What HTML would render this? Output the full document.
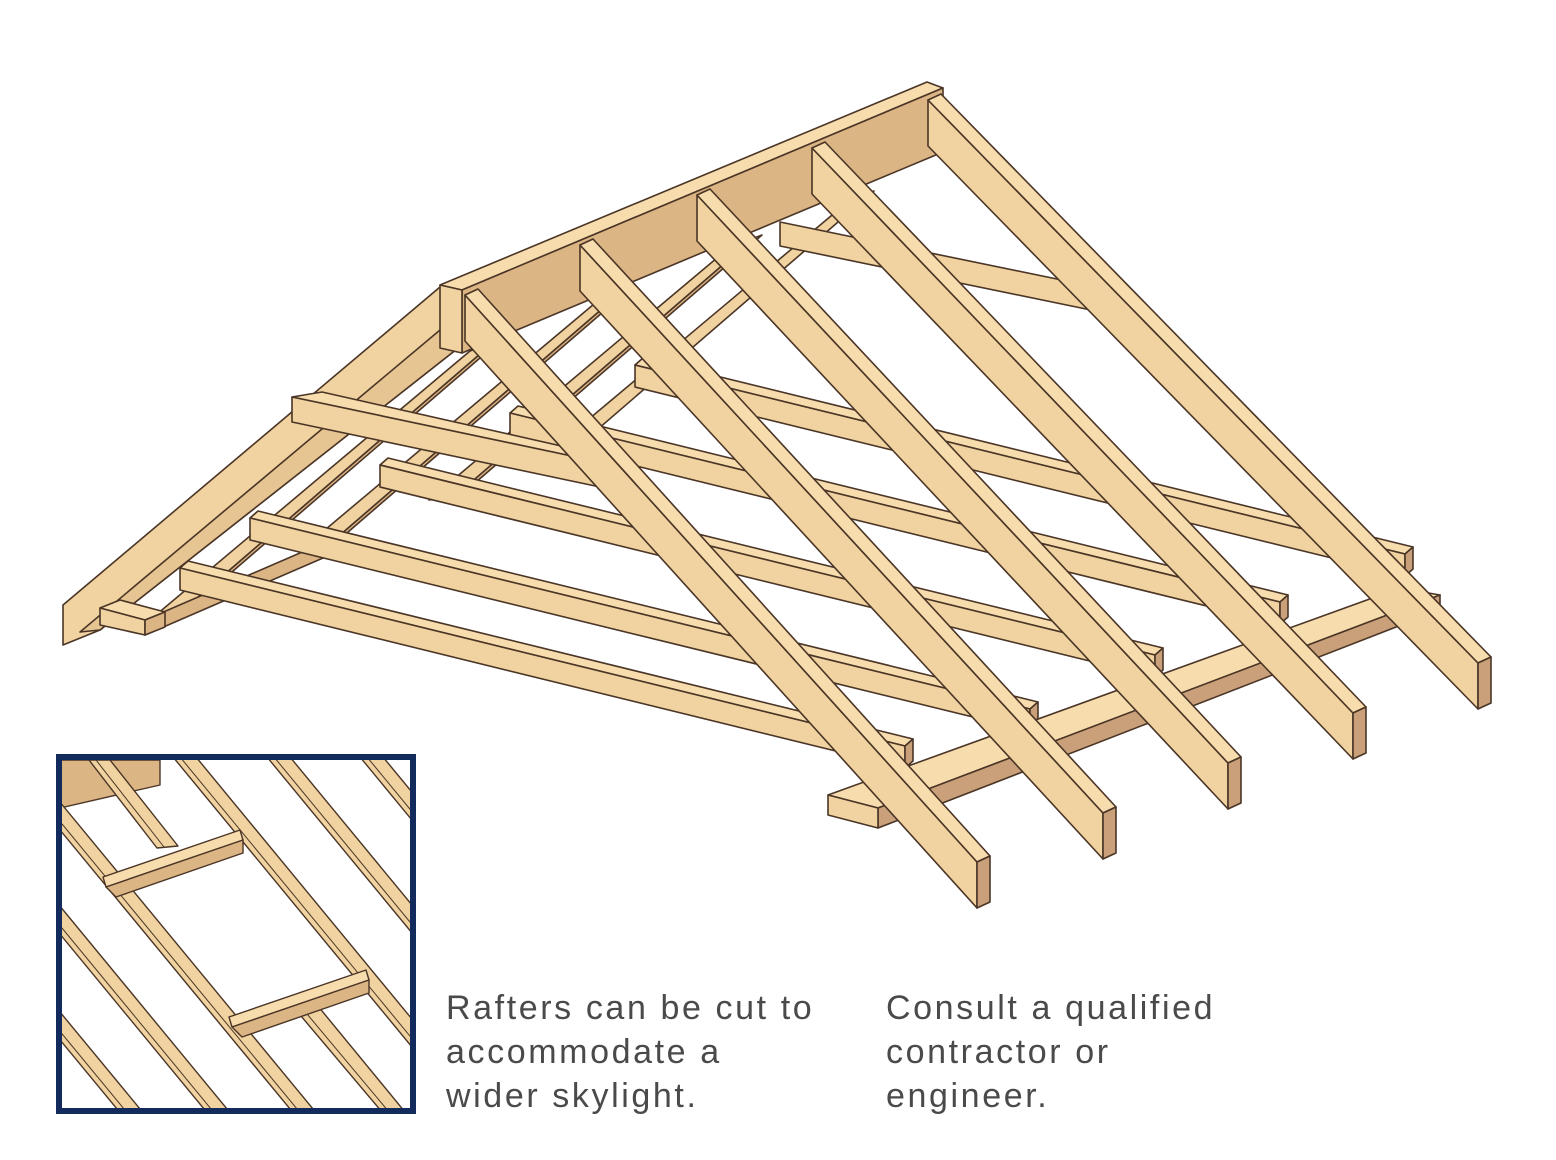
<!DOCTYPE html>
<html><head><meta charset="utf-8"><style>
html,body{margin:0;padding:0;background:#fff;overflow:hidden;}
body{width:1556px;height:1160px;position:relative;overflow:hidden;}
svg{position:absolute;left:0;top:0;}
.t{position:absolute;top:986px;font-family:"Liberation Sans",sans-serif;font-size:34px;line-height:44px;color:#4a4a4a;letter-spacing:2.6px;white-space:nowrap;}
</style></head><body>
<svg width="1556" height="1160" viewBox="0 0 1556 1160">
<g stroke="#4a3526" stroke-width="1.6" stroke-linejoin="round">
<polygon points="470,351 494,342 174,618 150,620" fill="#f0d3a0"/>
<polygon points="600,299 624,290 325,548 301,550" fill="#f0d3a0"/>
<polygon points="730,247 754,238 453,498 429,500" fill="#f0d3a0"/>
<polygon points="850,200 874,191 576,448 552,450" fill="#f0d3a0"/>
<polygon points="494,342 502,339 182,615 174,618" fill="#dcb585"/>
<polygon points="624,290 632,287 333,545 325,548" fill="#dcb585"/>
<polygon points="754,238 762,235 461,495 453,498" fill="#dcb585"/>
<polygon points="145,620 330,540 330,555 145,635" fill="#dcb585"/>
<polygon points="440,287 462,292 462,345 100,630 63,645 63,605" fill="#f0d3a0"/>
<polygon points="440,330 462,330 462,345 100,630 80,632" fill="#e6c592"/>
<polygon points="100,608 120,600 165,612 145,620" fill="#f7dcae"/>
<polygon points="100,608 145,620 145,635 100,625" fill="#f0d3a0"/>
<polygon points="145,620 165,612 165,627 145,635" fill="#dcb585"/>
<polygon points="440,285 927,82 943,88 462,290" fill="#f7dcae"/>
<polygon points="462,290 943,88 943,152 462,353" fill="#dcb585"/>
<polygon points="440,285 462,290 462,353 440,348" fill="#f0d3a0"/>
<polygon points="780,222 1120,292 1120,316 780,246" fill="#f0d3a0"/>
<polygon points="1120,292 1160,328 1148,334 1120,316" fill="#dcb585"/>
<g>
<polygon points="635,365 643,358 1413,547 1405,554" fill="#f7dcae"/>
<polygon points="635,365 1405,554 1405,576 635,387" fill="#f0d3a0"/>
<polygon points="1405,554 1413,547 1413,569 1405,576" fill="#c9a07a"/>
<polygon points="510,413 518,406 1288,595 1280,602" fill="#f7dcae"/>
<polygon points="510,413 1280,602 1280,624 510,435" fill="#f0d3a0"/>
<polygon points="1280,602 1288,595 1288,617 1280,624" fill="#c9a07a"/>
<polygon points="380,465 388,458 1163,648 1155,655" fill="#f7dcae"/>
<polygon points="380,465 1155,655 1155,677 380,487" fill="#f0d3a0"/>
<polygon points="1155,655 1163,648 1163,670 1155,677" fill="#c9a07a"/>
<polygon points="250,518 258,511 1038,702 1030,709" fill="#f7dcae"/>
<polygon points="250,518 1030,709 1030,731 250,540" fill="#f0d3a0"/>
<polygon points="1030,709 1038,702 1038,724 1030,731" fill="#c9a07a"/>
<polygon points="180,568 188,561 913,739 905,746" fill="#f7dcae"/>
<polygon points="180,568 905,746 905,768 180,590" fill="#f0d3a0"/>
<polygon points="905,746 913,739 913,761 905,768" fill="#c9a07a"/>
</g>
<polygon points="292,397 322,392 610,457 600,462" fill="#f7dcae"/>
<polygon points="292,397 600,462 600,487 292,422" fill="#f0d3a0"/>
<polygon points="600,462 610,457 640,500 628,507 600,487" fill="#dcb585"/>
<polygon points="828,795 1400,588 1440,595 878,808" fill="#f7dcae"/>
<polygon points="878,808 1440,595 1440,610 878,828" fill="#c9a07a"/>
<polygon points="828,795 878,808 878,828 828,815" fill="#f0d3a0"/>
<g>
<polygon points="928,100 1478,663 1478,709 928,146" fill="#f0d3a0"/>
<polygon points="928,100 941,94 1491,657 1478,663" fill="#f7dcae"/>
<polygon points="1478,663 1491,657 1491,703 1478,709" fill="#c9a07a"/>
<polygon points="812,148 1353,713 1353,759 812,194" fill="#f0d3a0"/>
<polygon points="812,148 825,142 1366,707 1353,713" fill="#f7dcae"/>
<polygon points="1353,713 1366,707 1366,753 1353,759" fill="#c9a07a"/>
<polygon points="697,195 1228,763 1228,809 697,241" fill="#f0d3a0"/>
<polygon points="697,195 710,189 1241,757 1228,763" fill="#f7dcae"/>
<polygon points="1228,763 1241,757 1241,803 1228,809" fill="#c9a07a"/>
<polygon points="580,245 1103,813 1103,859 580,291" fill="#f0d3a0"/>
<polygon points="580,245 593,239 1116,807 1103,813" fill="#f7dcae"/>
<polygon points="1103,813 1116,807 1116,853 1103,859" fill="#c9a07a"/>
<polygon points="465,295 977,862 977,908 465,341" fill="#f0d3a0"/>
<polygon points="465,295 478,289 990,856 977,862" fill="#f7dcae"/>
<polygon points="977,862 990,856 990,902 977,908" fill="#c9a07a"/>
</g>
</g>
<defs><clipPath id="c"><rect x="62" y="760" width="348" height="348"/></clipPath></defs>
<g clip-path="url(#c)" stroke="#4a3526" stroke-width="1.4" stroke-linejoin="round">
<polygon points="60,760 160,760 160,785 60,808" fill="#dcb585"/>
<g fill="#f0d3a0">
<polygon points="89,760 110,760 178,846 157,848"/>
<polygon points="159,740 182,740 491,1115 468,1115"/>
<polygon points="253,740 276,740 585,1115 562,1115"/>
<polygon points="346,740 369,740 678,1115 655,1115"/>
<polygon points="-20,733 3,733 318,1115 295,1115"/>
<polygon points="-20,837 3,837 232,1115 209,1115"/>
<polygon points="-20,943 3,943 145,1115 122,1115"/>
<polygon points="290,1003 313,1000 405,1112 382,1112"/>
</g>
<g stroke-width="1">
<line x1="96" y1="760" x2="164" y2="847"/>
<line x1="166" y1="740" x2="475" y2="1115"/>
<line x1="260" y1="740" x2="569" y2="1115"/>
<line x1="353" y1="740" x2="662" y2="1115"/>
<line x1="-13" y1="733" x2="302" y2="1115"/>
<line x1="-13" y1="837" x2="216" y2="1115"/>
<line x1="-13" y1="943" x2="129" y2="1115"/>
<line x1="297" y1="1002" x2="389" y2="1112"/>
</g>
<polygon points="103,877 240,830 243,840 106,887" fill="#f7dcae"/>
<polygon points="106,887 243,840 243,853 116,897" fill="#dcb585"/>
<polygon points="229,1017 366,970 369,980 232,1027" fill="#f7dcae"/>
<polygon points="232,1027 369,980 369,993 242,1037" fill="#dcb585"/>
</g>
<rect x="59" y="757" width="354" height="354" fill="none" stroke="#132b5c" stroke-width="6"/>
</svg>
<div class="t" style="left:446px;">Rafters can be cut to<br>accommodate a<br>wider skylight.</div>
<div class="t" style="left:886px;">Consult a qualified<br>contractor or<br>engineer.</div>
</body></html>
